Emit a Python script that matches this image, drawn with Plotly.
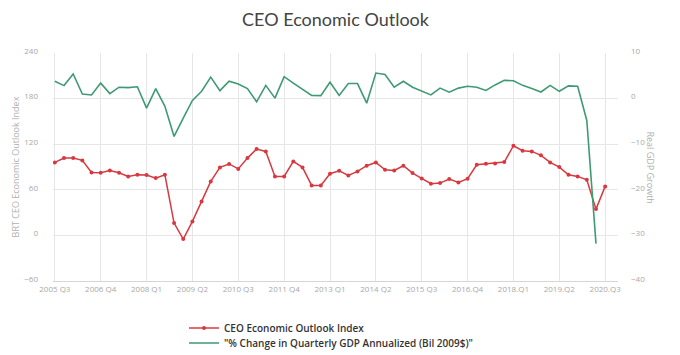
import plotly.graph_objects as go

quarters = [f"{y} Q{q}" for y in range(2005, 2021) for q in range(1, 5)][2:63]

tick_labels = ["2005 Q3", "2006 Q4", "2008 Q1", "2009 Q2", "2010 Q3", "2011 Q4",
               "2013 Q1", "2014 Q2", "2015 Q3", "2016.Q4", "2018.Q1", "2019.Q2", "2020.Q3"]

ceo_index = [96, 101.7, 101.7, 98.7, 82.9, 82.5, 85.5, 82.5, 77.6, 79.8, 79.4, 75.4, 79.8,
             16.2, -4.8, 18.4, 44.7, 71, 89.5, 94, 87.5,
             101.7, 113.6, 110.5, 77.6, 77.6, 97.4, 89.5, 65.8, 65.8, 81.2,
             85.1, 78.9, 84.2, 91.7, 96, 86.4, 85.5, 91.7, 82, 75,
             68, 68.8, 74.1, 69.7, 74.6, 93, 94.3, 94.7, 96.5, 118,
             111.4, 110.5, 105.3, 96, 89.9, 79.8, 77.6, 73.2, 34.6, 64.5]

gdp_growth = [3.8, 2.85, 5.4, 1.0, 0.8, 3.4, 1.1, 2.5, 2.4, 2.6,
              -2.1, 2.2, -1.7, -8.3, -4.3, -0.4, 1.6, 4.7, 1.75, 3.8,
              3.2, 2.2, -0.7, 2.9, 0.1, 4.8, 3.4, 2.0, 0.7, 0.65,
              3.6, 0.7, 3.3, 3.3, -1.0, 5.6, 5.3, 2.5, 3.8, 2.5,
              1.6, 0.8, 2.3, 1.4, 2.3, 2.7, 2.5, 1.8, 3.0, 4.0,
              3.9, 2.9, 2.2, 1.45, 2.9, 1.6, 2.8, 2.7, -4.8, -31.8]

tick_vals = quarters[::5]

RED = "#d63a40"
GREEN = "#3f9a74"

ML, MR, MT, MB = 53, 62, 53, 74
PW = 680 - ML - MR
PH = 355 - MT - MB
PLOT_BOTTOM = 355 - MB

fig = go.Figure()
fig.add_trace(go.Scatter(
    x=quarters, y=ceo_index, name="CEO Economic Outlook Index",
    mode="lines+markers",
    line=dict(color=RED, width=1.5),
    marker=dict(color=RED, size=4),
    yaxis="y", legend="legend",
))
fig.add_trace(go.Scatter(
    x=quarters[:len(gdp_growth)], y=gdp_growth,
    name="\"% Change in Quarterly GDP Annualized (Bil 2009$)\"",
    mode="lines",
    line=dict(color=GREEN, width=1.6),
    yaxis="y2", legend="legend2",
))

tick_font = dict(family="Open Sans", size=8, color="#a8a8a8")
legend_font = dict(family="Open Sans", size=10, color="#333333", weight=600)
legend_x = (184 - ML) / PW


def legend_y(center_px):
    top = center_px - 13.5
    return -(top - PLOT_BOTTOM) / PH


fig.update_layout(
    width=680, height=355,
    margin=dict(l=ML, r=MR, t=MT, b=MB, autoexpand=False),
    paper_bgcolor="white", plot_bgcolor="white",
    title=dict(text="CEO Economic Outlook", x=0.5, xref="paper", xanchor="center",
               y=1 - 20 / 355, yref="container", yanchor="middle",
               font=dict(family="Lato", size=18, color="#444444")),
    xaxis=dict(type="category", range=[-0.2, 61.4], tickvals=tick_vals, ticktext=tick_labels,
               showgrid=True, gridcolor="#e6e6e6", gridwidth=1,
               showline=True, linecolor="#d6d6d6", linewidth=1,
               ticks="", tickfont=tick_font, zeroline=False),
    yaxis=dict(range=[-60, 240], dtick=60, tick0=0, showgrid=True, gridcolor="#e6e6e6",
               zeroline=False, tickfont=tick_font, ticklabelshift=-2, ticklabelstandoff=14,
               title=dict(text="BRT CEO Economic Outlook Index",
                          font=dict(family="Open Sans", size=9, color="#b0b0b0"), standoff=3)),
    yaxis2=dict(range=[-40, 10], dtick=10, tick0=0, overlaying="y", side="right",
                showgrid=False, zeroline=False, tickfont=tick_font, ticklabelshift=-2,
                ticklabelstandoff=12),
    legend=dict(orientation="v", x=legend_x, xanchor="left", y=legend_y(327), yanchor="top",
                font=legend_font, itemwidth=30, bgcolor="rgba(0,0,0,0)"),
    legend2=dict(orientation="v", x=legend_x, xanchor="left", y=legend_y(342), yanchor="top",
                 font=legend_font, itemwidth=30, bgcolor="rgba(0,0,0,0)"),
    showlegend=True,
    annotations=[dict(text="Real GDP Growth", textangle=90, x=(659 - ML) / PW, xref="paper",
                      y=0.5, yref="paper", showarrow=False,
                      font=dict(family="Open Sans", size=9, color="#b0b0b0"))],
)

fig.write_html("out.html", config={"displayModeBar": False},
               post_script="document.body.style.margin='0';")
